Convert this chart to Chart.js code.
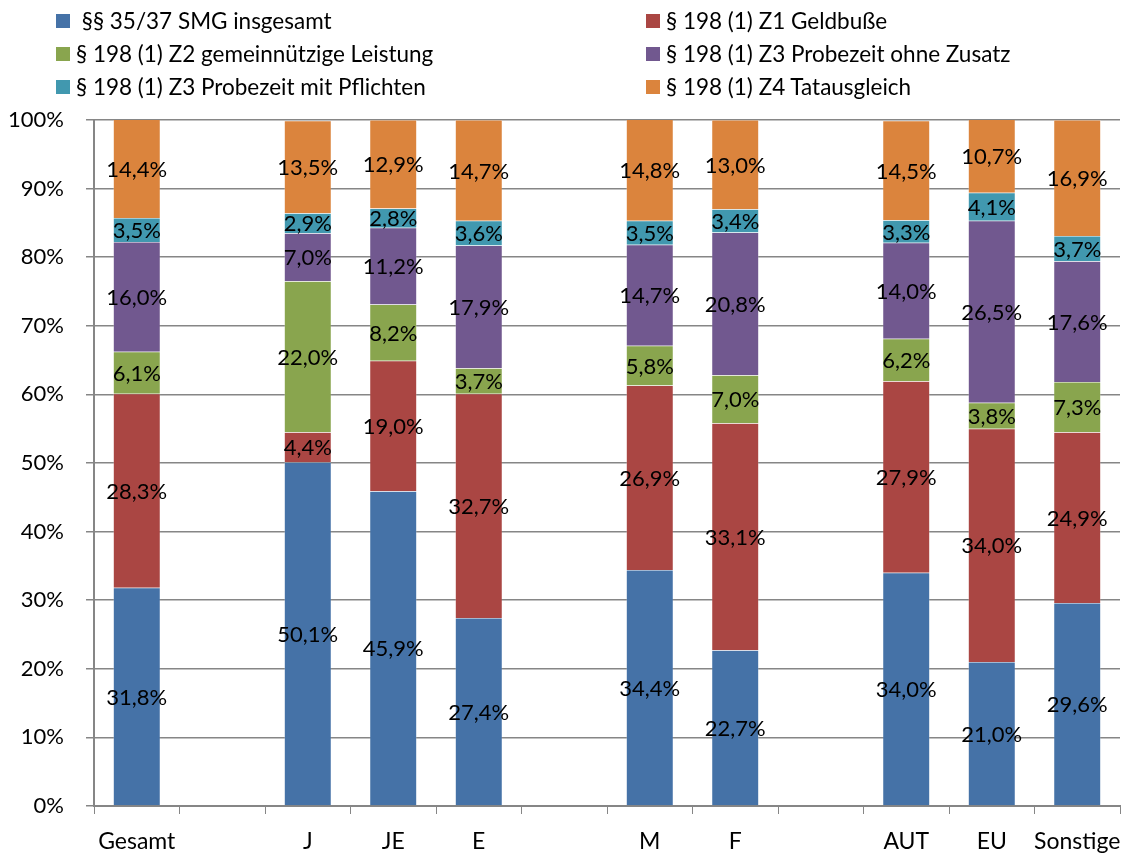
<!DOCTYPE html>
<html>
<head>
<meta charset="utf-8">
<script src="https://cdn.jsdelivr.net/npm/chart.js@4.4.1/dist/chart.umd.min.js"></script>
<style>
  html, body { margin:0; padding:0; background:#fff; }
  #wrap { position:relative; width:1127px; height:854px; }
  #legend { position:absolute; left:0; top:0; width:1127px; height:110px; font-family: Lato, "Open Sans", sans-serif; font-size:22.5px; color:#000; }
  .li { position:absolute; white-space:pre; line-height:26px; }
  .sw { position:absolute; width:14px; height:14px; }
</style>
</head>
<body>
<div id="wrap">
  <canvas id="c" width="1127" height="854"></canvas>
  <div id="legend"></div>
</div>
<script>
const categories = ['Gesamt', '', 'J', 'JE', 'E', '', 'M', 'F', '', 'AUT', 'EU', 'Sonstige'];
const seriesNames = [
  ' §§ 35/37 SMG insgesamt',
  '§ 198 (1) Z1 Geldbuße',
  '§ 198 (1) Z2 gemeinnützige Leistung',
  '§ 198 (1) Z3 Probezeit ohne Zusatz',
  '§ 198 (1) Z3 Probezeit mit Pflichten',
  '§ 198 (1) Z4 Tatausgleich'
];
const smg        = [31.8, null, 50.1, 45.9, 27.4, null, 34.4, 22.7, null, 34.0, 21.0, 29.6];
const geldbusse  = [28.3, null,  4.4, 19.0, 32.7, null, 26.9, 33.1, null, 27.9, 34.0, 24.9];
const gemeinn    = [ 6.1, null, 22.0,  8.2,  3.7, null,  5.8,  7.0, null,  6.2,  3.8,  7.3];
const ohneZusatz = [16.0, null,  7.0, 11.2, 17.9, null, 14.7, 20.8, null, 14.0, 26.5, 17.6];
const mitPflicht = [ 3.5, null,  2.9,  2.8,  3.6, null,  3.5,  3.4, null,  3.3,  4.1,  3.7];
const tatausgl   = [14.4, null, 13.5, 12.9, 14.7, null, 14.8, 13.0, null, 14.5, 10.7, 16.9];
const yTicks = [0,10,20,30,40,50,60,70,80,90,100];

const colors = ['#4572A7', '#AA4643', '#89A54E', '#71588F', '#4198AF', '#DB843D'];
const seriesData = [smg, geldbusse, gemeinn, ohneZusatz, mitPflicht, tatausgl];
const FONT = 'Lato, "Open Sans", sans-serif';

// HTML legend
const leg = document.getElementById('legend');
seriesNames.forEach((name, i) => {
  const col = i % 2, row = Math.floor(i / 2);
  const sx = col === 0 ? 56 : 646;
  const sy = 14 + row * 33;
  const sw = document.createElement('div');
  sw.className = 'sw';
  sw.style.left = sx + 'px'; sw.style.top = sy + 'px'; sw.style.background = colors[i];
  leg.appendChild(sw);
  const t = document.createElement('div');
  t.className = 'li';
  t.textContent = name;
  t.style.left = (sx + 20) + 'px';
  t.style.top = (sy - 6) + 'px';
  leg.appendChild(t);
});

const fmt = v => v.toFixed(1).replace('.', ',') + '%';

const labelPlugin = {
  id: 'segLabels',
  afterDatasetsDraw(chart) {
    const ctx = chart.ctx;
    ctx.save();
    ctx.font = '22px ' + FONT;
    ctx.fillStyle = '#000';
    ctx.textAlign = 'center';
    ctx.textBaseline = 'middle';
    chart.data.datasets.forEach((ds, di) => {
      const meta = chart.getDatasetMeta(di);
      meta.data.forEach((el, j) => {
        const v = ds.data[j];
        if (v === null || v === undefined) return;
        const p = el.getProps(['x', 'y', 'base'], true);
        ctx.fillText(fmt(v), p.x, (p.y + p.base) / 2 + 1);
      });
    });
    ctx.restore();
  }
};

new Chart(document.getElementById('c'), {
  type: 'bar',
  data: {
    labels: categories,
    datasets: seriesData.map((d, i) => ({
      label: seriesNames[i],
      data: d,
      backgroundColor: colors[i],
      borderColor: 'rgba(255,255,255,0.5)',
      borderWidth: 0.5,
      categoryPercentage: 0.55,
      barPercentage: 1.0
    }))
  },
  options: {
    responsive: false,
    animation: false,
    devicePixelRatio: 1,
    layout: { padding: { top: 120, left: 0, right: 7, bottom: 0 } },
    plugins: { legend: { display: false }, tooltip: { enabled: false } },
    scales: {
      x: {
        stacked: true,
        grid: { drawOnChartArea: false, drawTicks: true, tickLength: 8, color: '#868686', offset: true },
        border: { color: '#868686', width: 2 },
        ticks: { color: '#000', font: { size: 23, family: FONT }, padding: 14, maxRotation: 0, autoSkip: false },
        afterFit(s) { s.height = 48; s.paddingLeft = 0; s.paddingRight = 0; }
      },
      y: {
        stacked: true,
        min: 0, max: 100,
        afterBuildTicks(s) { s.ticks = yTicks.map(v => ({ value: v })); },
        grid: { color: '#868686', lineWidth: 1.5, tickLength: 8 },
        border: { color: '#868686', width: 2 },
        ticks: { color: '#000', font: { size: 22, family: FONT }, padding: 22, callback: v => v + '%' },
        afterFit(s) { s.width = 94; }
      }
    }
  },
  plugins: [labelPlugin]
});
</script>
</body>
</html>
